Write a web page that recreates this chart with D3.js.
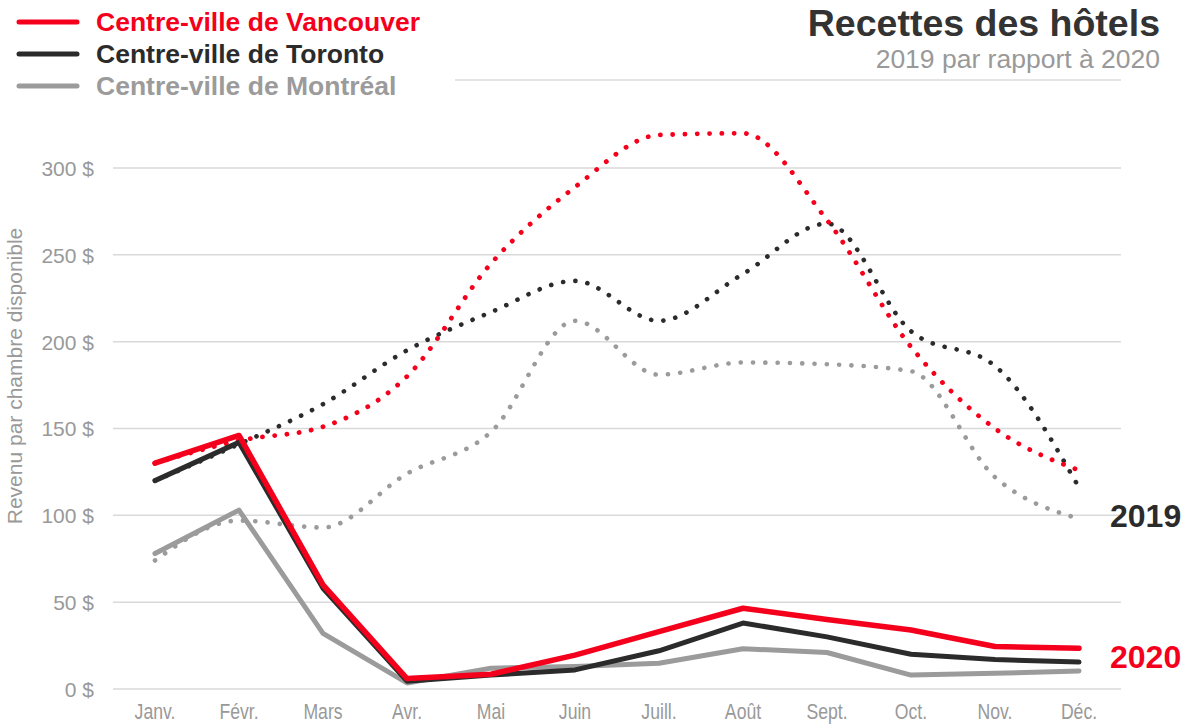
<!DOCTYPE html>
<html>
<head>
<meta charset="utf-8">
<script src="https://cdn.jsdelivr.net/npm/d3@7"></script>
<style>
  body { margin: 0; background: #fff; }
  svg { display: block; font-family: "Liberation Sans", Arial, sans-serif; }
</style>
</head>
<body>
<script>
// month categories and tick values
var months = ["Janv.", "Févr.", "Mars", "Avr.", "Mai", "Juin", "Juill.", "Août", "Sept.", "Oct.", "Nov.", "Déc."];
var yTicks = [0, 50, 100, 150, 200, 250, 300];

// 2019 values (dotted, smoothed)
var van2019 = [130, 143, 151, 180, 245, 289, 319, 320, 270, 197, 150, 126];
var tor2019 = [120, 141, 164, 195, 217, 235, 212, 239, 268, 206, 186, 116];
var mtl2019 = [74, 97, 93, 124, 148, 212, 181, 188, 187, 183, 122, 98];

// 2020 values (solid)
var van2020 = [130, 146, 60, 6, 8.5, 19.5, 33, 46.5, 40, 34, 24.5, 23.5];
var tor2020 = [120, 142, 58, 4.5, 8, 11, 22, 38, 30, 20, 17, 15.5];
var mtl2020 = [78, 103, 32, 3.5, 12, 13, 14.8, 23.2, 21, 8, 9, 10.4];

var legendNames = ["Centre-ville de Vancouver", "Centre-ville de Toronto", "Centre-ville de Montréal"];

var RED = "#f5001c", DARK = "#2b2b2b", GRAY = "#9b9b9b";

var width = 1184, height = 725;

var svg = d3.select("body").append("svg")
  .attr("width", width)
  .attr("height", height);

//scales
var x = d3.scaleBand().domain(months).range([113, 1121]);
var y = d3.scaleLinear().domain([0, 300]).range([689, 168]);
var xc = function(i){ return x(months[i]) + x.bandwidth() / 2; };

//gridlines
svg.append("g").selectAll("line")
  .data(yTicks)
  .enter().append("line")
  .attr("x1", 113).attr("x2", 1121)
  .attr("y1", function(d){ return y(d); })
  .attr("y2", function(d){ return y(d); })
  .attr("stroke", "#d9d9d9")
  .attr("stroke-width", 1.5);

//y axis labels
var yAxis = svg.append("g")
  .attr("transform", "translate(94,0)")
  .call(d3.axisLeft(y).tickValues(yTicks).tickSize(0).tickPadding(0)
    .tickFormat(function(d){ return d + " $"; }));
yAxis.select(".domain").remove();
yAxis.selectAll("text")
  .attr("fill", "#999")
  .attr("dy", "0.35em")
  .style("font-size", "21px")
  .style("font-family", "Liberation Sans, Arial, sans-serif");

svg.append("text")
  .attr("transform", "translate(22,376) rotate(-90)")
  .attr("text-anchor", "middle")
  .attr("fill", "#999")
  .style("font-size", "21px")
  .text("Revenu par chambre disponible");

//x axis labels (narrow look)
var xAxis = svg.append("g")
  .attr("transform", "translate(0,703)")
  .call(d3.axisBottom(x).tickSize(0).tickPadding(0));
xAxis.select(".domain").remove();
xAxis.selectAll("text")
  .attr("fill", "#999")
  .attr("dy", "0.74em")
  .attr("transform", "scale(0.82,1)")
  .style("font-size", "21.5px")
  .style("font-family", "Liberation Sans, Arial, sans-serif");

//lines
var smooth = d3.line()
  .x(function(d, i){ return xc(i); })
  .y(function(d){ return y(d); })
  .curve(d3.curveMonotoneX);

var straight = d3.line()
  .x(function(d, i){ return xc(i); })
  .y(function(d){ return y(d); });

var dotted = [[mtl2019, GRAY, 4.6], [tor2019, DARK, 4.6], [van2019, RED, 4.8]];
dotted.forEach(function(s){
  svg.append("path")
    .datum(s[0])
    .attr("d", smooth)
    .attr("fill", "none")
    .attr("stroke", s[1])
    .attr("stroke-width", s[2])
    .attr("stroke-linecap", "round")
    .attr("stroke-dasharray", "0.1 12.2");
});

var solid = [[mtl2020, GRAY, 5], [tor2020, DARK, 5], [van2020, RED, 5.5]];
solid.forEach(function(s){
  svg.append("path")
    .datum(s[0])
    .attr("d", straight)
    .attr("fill", "none")
    .attr("stroke", s[1])
    .attr("stroke-width", s[2])
    .attr("stroke-linejoin", "round")
    .attr("stroke-linecap", "round");
});

//year labels
svg.append("text")
  .attr("x", 1110).attr("y", 527)
  .attr("fill", DARK)
  .style("font-size", "32px").style("font-weight", "bold")
  .text("2019");
svg.append("text")
  .attr("x", 1110).attr("y", 668)
  .attr("fill", RED)
  .style("font-size", "32px").style("font-weight", "bold")
  .text("2020");

//legend
var legendColors = [RED, DARK, GRAY];
var leg = svg.append("g").selectAll("g")
  .data(legendNames)
  .enter().append("g")
  .attr("transform", function(d, i){ return "translate(0," + (22 + i * 32) + ")"; });
leg.append("line")
  .attr("x1", 19).attr("x2", 77)
  .attr("stroke", function(d, i){ return legendColors[i]; })
  .attr("stroke-width", 5)
  .attr("stroke-linecap", "round");
leg.append("text")
  .attr("x", 96).attr("dy", "0.35em")
  .attr("fill", function(d, i){ return legendColors[i]; })
  .style("font-size", "26.5px").style("font-weight", "bold")
  .text(function(d){ return d; });

//title
svg.append("text")
  .attr("x", 1160).attr("y", 36)
  .attr("text-anchor", "end")
  .attr("fill", "#333")
  .style("font-size", "37.5px").style("font-weight", "bold")
  .text("Recettes des hôtels");
svg.append("text")
  .attr("x", 1160).attr("y", 68)
  .attr("text-anchor", "end")
  .attr("fill", "#999")
  .style("font-size", "26.5px")
  .text("2019 par rapport à 2020");
svg.append("line")
  .attr("x1", 455).attr("x2", 1121)
  .attr("y1", 80).attr("y2", 80)
  .attr("stroke", "#dcdcdc")
  .attr("stroke-width", 1.5);
</script>
</body>
</html>
